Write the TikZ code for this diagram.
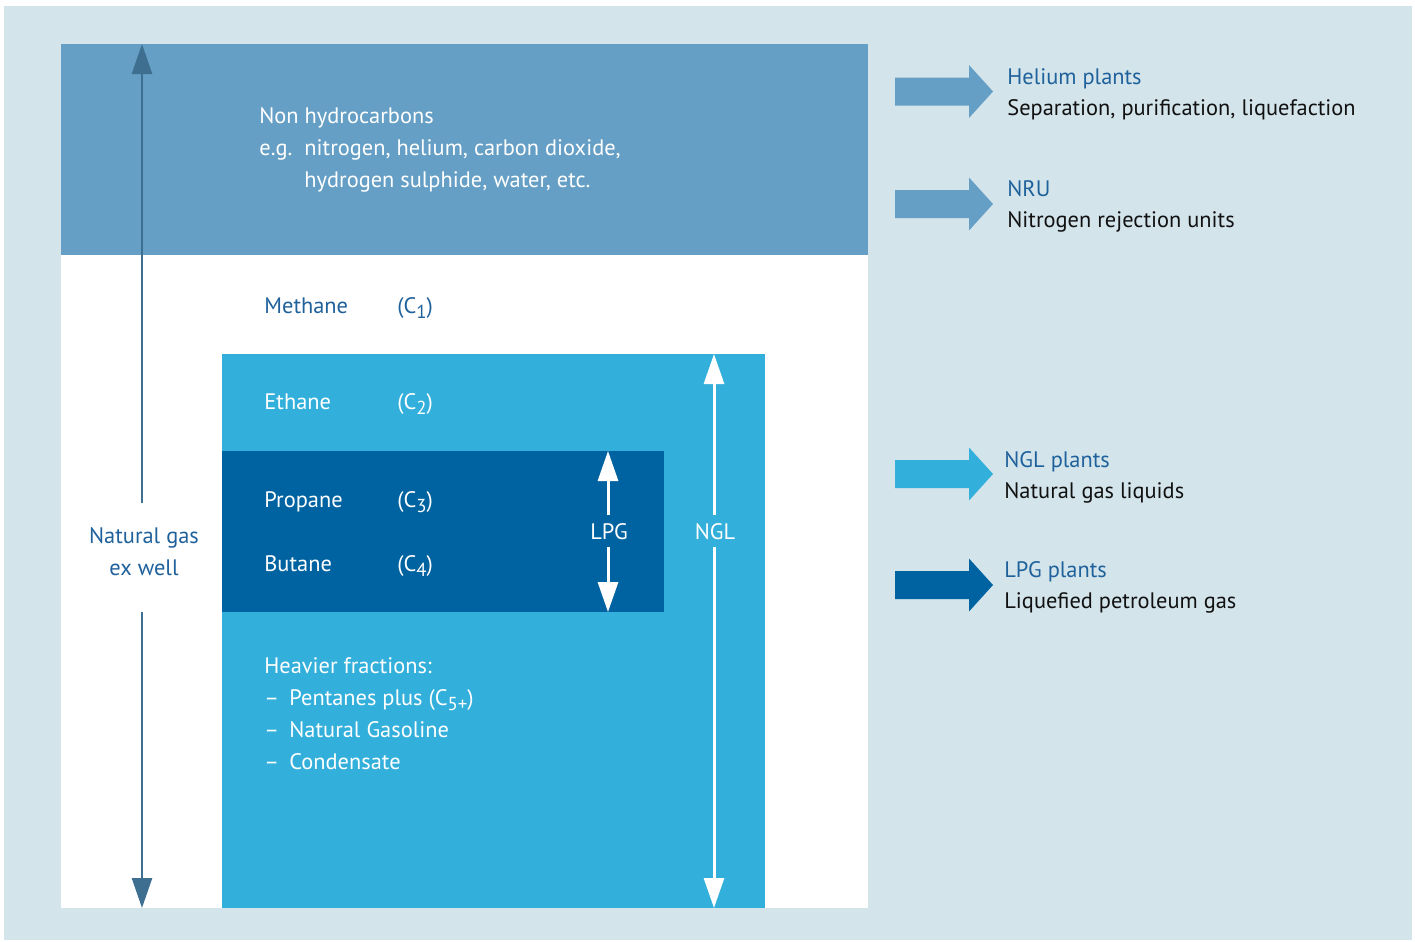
\documentclass[tikz,border=0pt]{standalone}
\usepackage{fontspec}
\setmainfont{PT Sans}
\usetikzlibrary{arrows.meta}
\definecolor{bgc}{HTML}{D3E4EB}
\definecolor{topc}{HTML}{659FC5}
\definecolor{cyanc}{HTML}{32AFDA}
\definecolor{darkc}{HTML}{0063A1}
\definecolor{txtb}{HTML}{1F619B}
\definecolor{arrg}{HTML}{3E6F90}
\definecolor{blk}{HTML}{111111}
\newcommand{\mysub}[1]{\raisebox{-0.5ex}{\fontsize{9.4}{10}\selectfont #1}}
\tikzset{
  lbl/.style={anchor=base west,inner sep=0pt,font=\fontsize{11.2}{13}\selectfont},
  clbl/.style={anchor=base,inner sep=0pt,font=\fontsize{11.2}{13}\selectfont},
  grayarr/.style={draw=arrg,line width=1.3pt,-{Triangle[width=10pt,length=15pt]}},
  whitearr/.style={draw=white,line width=1.5pt,-{Triangle[width=10pt,length=15pt]}},
}
\newcommand{\blockarrow}[2]{%
  \fill[#2] (895,#1-14) -- (969,#1-14) -- (969,#1-26.5) -- (993,#1) -- (969,#1+26.5) -- (969,#1+14) -- (895,#1+14) -- cycle;}
\begin{document}
\begin{tikzpicture}[x=0.5pt,y=-0.5pt]
\useasboundingbox (0,0) rectangle (1415,942);
\fill[white] (0,0) rectangle (1415,942);
\fill[bgc] (4,6) rectangle (1412,940);
% boxes
\fill[white] (61,44) rectangle (868,908);
\fill[topc] (61,44) rectangle (868,255);
\fill[cyanc] (222,354) rectangle (765,908);
\fill[darkc] (222,451) rectangle (664,612);
% top text
\node[lbl,white] (nh) at (259,123) {Non hydrocarbons};
\node[lbl,white] (eg) at (259,155) {e.g.};
\node[lbl,white] (eg1) at (304,155) {nitrogen, helium, carbon dioxide,};
\node[lbl,white] (eg2) at (304,187) {hydrogen sulphide, water, etc.};
% methane etc
\node[lbl,txtb] (meth) at (264,313) {Methane};
\node[lbl,txtb] (c1) at (397,313) {(C\mysub{1})};
\node[lbl,white] (eth) at (264,409) {Ethane};
\node[lbl,white] (c2) at (397,409) {(C\mysub{2})};
\node[lbl,white] (prop) at (264,507) {Propane};
\node[lbl,white] (c3) at (397,507) {(C\mysub{3})};
\node[lbl,white] (but) at (264,571) {Butane};
\node[lbl,white] (c4) at (397,571) {(C\mysub{4})};
\node[lbl,white] (heavy) at (264,673) {Heavier fractions:};
\node[lbl,white] (d1) at (264,705) {–};
\node[lbl,white] (h1) at (289,705) {Pentanes plus (C\mysub{5+})};
\node[lbl,white] (d2) at (264,737) {–};
\node[lbl,white] (h2) at (289,737) {Natural Gasoline};
\node[lbl,white] (d3) at (264,769) {–};
\node[lbl,white] (h3) at (289,769) {Condensate};
% natural gas arrow
\node[clbl,txtb] (ng1) at (144,543) {Natural gas};
\node[clbl,txtb] (ng2) at (144,575) {ex well};
\coordinate (ngtop) at (142,44);
\coordinate (ngtopend) at (142,503);
\coordinate (ngbotstart) at (142,612);
\coordinate (ngbot) at (142,908);
\draw[grayarr] (ngtopend) -- (ngtop);
\draw[grayarr] (ngbotstart) -- (ngbot);
% LPG arrow
\node[clbl,white] (lpg) at (609,539) {LPG};
\coordinate (lpgt) at (608,451);
\coordinate (lpgta) at (608,515);
\coordinate (lpgba) at (608,547);
\coordinate (lpgb) at (608,612);
\draw[whitearr] (lpgta) -- (lpgt);
\draw[whitearr] (lpgba) -- (lpgb);
% NGL arrow
\node[clbl,white] (ngl) at (715,539) {NGL};
\coordinate (nglt) at (714,354);
\coordinate (nglta) at (714,515);
\coordinate (nglba) at (714,547);
\coordinate (nglb) at (714,908);
\draw[whitearr] (nglta) -- (nglt);
\draw[whitearr] (nglba) -- (nglb);
% right block arrows
\blockarrow{91.5}{topc}
\blockarrow{204}{topc}
\blockarrow{474}{cyanc}
\blockarrow{585}{darkc}
\node[lbl,txtb] (he) at (1007,84) {Helium plants};
\node[lbl,blk] (hed) at (1007,115) {Separation, purification, liquefaction};
\node[lbl,txtb] (nru) at (1007,196) {NRU};
\node[lbl,blk] (nrud) at (1007,227) {Nitrogen rejection units};
\node[lbl,txtb] (nglp) at (1004,467) {NGL plants};
\node[lbl,blk] (ngld) at (1004,498) {Natural gas liquids};
\node[lbl,txtb] (lpgp) at (1004,577) {LPG plants};
\node[lbl,blk] (lpgd) at (1004,608) {Liquefied petroleum gas};
\end{tikzpicture}
\end{document}
